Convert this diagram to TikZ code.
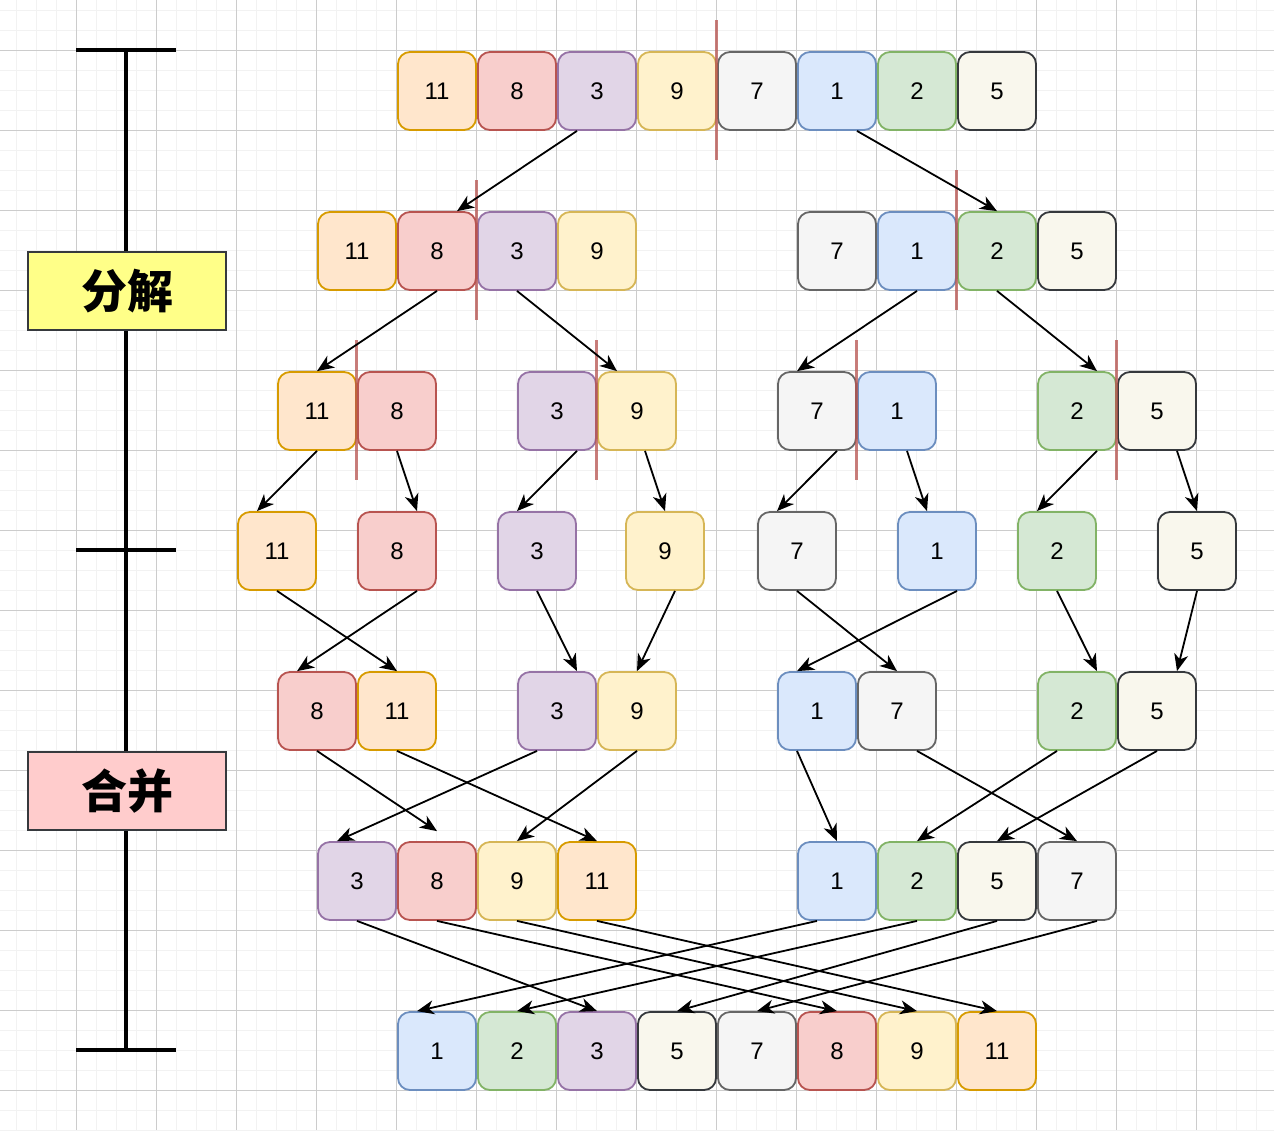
\documentclass[tikz,border=0pt]{standalone}
\usepackage{fontspec}
\setmainfont{Liberation Sans}
\newfontfamily\cjk{Noto Sans CJK SC}
\usetikzlibrary{arrows.meta}
\definecolor{orgfill}{HTML}{FFE6CC}\definecolor{orgline}{HTML}{D79B00}
\definecolor{redfill}{HTML}{F8CECC}\definecolor{redline}{HTML}{B85450}
\definecolor{purfill}{HTML}{E1D5E7}\definecolor{purline}{HTML}{9673A6}
\definecolor{yelfill}{HTML}{FFF2CC}\definecolor{yelline}{HTML}{D6B656}
\definecolor{gryfill}{HTML}{F5F5F5}\definecolor{gryline}{HTML}{666666}
\definecolor{blufill}{HTML}{DAE8FC}\definecolor{bluline}{HTML}{6C8EBF}
\definecolor{grnfill}{HTML}{D5E8D4}\definecolor{grnline}{HTML}{82B366}
\definecolor{begfill}{HTML}{F9F7ED}\definecolor{begline}{HTML}{36393D}
\definecolor{labyel}{HTML}{FFFF88}\definecolor{labred}{HTML}{FFCCCC}
\tikzset{
  cell/.style={line width=1.8pt, rounded corners=12pt, minimum size=78pt, inner sep=0pt, font=\fontsize{24}{24}\selectfont},
  v11/.style={cell, fill=orgfill, draw=orgline},
  v8/.style={cell, fill=redfill, draw=redline},
  v3/.style={cell, fill=purfill, draw=purline},
  v9/.style={cell, fill=yelfill, draw=yelline},
  v7/.style={cell, fill=gryfill, draw=gryline},
  v1/.style={cell, fill=blufill, draw=bluline},
  v2/.style={cell, fill=grnfill, draw=grnline},
  v5/.style={cell, fill=begfill, draw=begline},
  stage/.style={draw=begline, line width=2pt, minimum width=198pt, minimum height=78pt, inner sep=0pt, font=\cjk\bfseries\fontsize{46}{46}\selectfont},
  flow/.style={-{Stealth[length=17pt, width=14pt, inset=5pt]}, line width=1.8pt, draw=black},
  cut/.style={draw=redline, opacity=0.75, line width=3pt},
  ruler/.style={line width=3.5pt, draw=black},
  minorgrid/.style={draw=black!5, line width=1pt},
  majorgrid/.style={draw=black!20, line width=1pt}
}
\begin{document}
\begin{tikzpicture}[x=1pt, y=-1pt]
  \useasboundingbox (0,0) rectangle (1274,1130);
  \fill[white] (0,0) rectangle (1274,1130);
  % background grid
  \foreach \x in {16.5,36.5,...,1274} \draw[minorgrid] (\x,0) -- (\x,1130);
  \foreach \y in {10,30,...,1130} \draw[minorgrid] (0,\y) -- (1274,\y);
  \foreach \x in {76.5,156.5,...,1274} \draw[majorgrid] (\x,0) -- (\x,1130);
  \foreach \y in {50,130,...,1130} \draw[majorgrid] (0,\y) -- (1274,\y);

  % stage ruler
  \draw[ruler] (126,50) -- (126,1050);
  \draw[ruler] (76,50) -- (176,50);
  \draw[ruler] (76,550) -- (176,550);
  \draw[ruler] (76,1050) -- (176,1050);
  \node[stage, fill=labyel] (split) at (127,291) {分解};
  \node[stage, fill=labred] (merge) at (127,791) {合并};

  % rows
  \foreach \x/\v [count=\i] in {437/11,517/8,597/3,677/9,757/7,837/1,917/2,997/5}
    \node[v\v] (a\i) at (\x,91) {\v};
  \foreach \x/\v [count=\i] in {357/11,437/8,517/3,597/9,837/7,917/1,997/2,1077/5}
    \node[v\v] (b\i) at (\x,251) {\v};
  \foreach \x/\v [count=\i] in {317/11,397/8,557/3,637/9,817/7,897/1,1077/2,1157/5}
    \node[v\v] (c\i) at (\x,411) {\v};
  \foreach \x/\v [count=\i] in {277/11,397/8,537/3,665/9,797/7,937/1,1057/2,1197/5}
    \node[v\v] (d\i) at (\x,551) {\v};
  \foreach \x/\v [count=\i] in {317/8,397/11,557/3,637/9,817/1,897/7,1077/2,1157/5}
    \node[v\v] (e\i) at (\x,711) {\v};
  \foreach \x/\v [count=\i] in {357/3,437/8,517/9,597/11,837/1,917/2,997/5,1077/7}
    \node[v\v] (f\i) at (\x,881) {\v};
  \foreach \x/\v [count=\i] in {437/1,517/2,597/3,677/5,757/7,837/8,917/9,997/11}
    \node[v\v] (g\i) at (\x,1051) {\v};

  % split marks
  \draw[cut] (716,20) -- (716,160);
  \draw[cut] (476,180) -- (476,320);
  \draw[cut] (956,170) -- (956,310);
  \foreach \x in {356,596,856,1116} \draw[cut] (\x,340) -- (\x,480);

  % split
  \draw[flow] ([xshift=-20pt]a3.south) -- ([xshift=20pt]b2.north);
  \draw[flow] ([xshift=20pt]a6.south) -- (b7.north);
  \draw[flow] (b2.south) -- (c1.north);
  \draw[flow] (b3.south) -- ([xshift=-20pt]c4.north);
  \draw[flow] (b6.south) -- ([xshift=-20pt]c5.north);
  \draw[flow] (b7.south) -- ([xshift=20pt]c7.north);
  \draw[flow] (c1.south) -- ([xshift=-20pt]d1.north);
  \draw[flow] (c2.south) -- ([xshift=20pt]d2.north);
  \draw[flow] ([xshift=20pt]c3.south) -- ([xshift=-20pt]d3.north);
  \draw[flow] ([xshift=8pt]c4.south) -- (d4.north);
  \draw[flow] ([xshift=20pt]c5.south) -- ([xshift=-20pt]d5.north);
  \draw[flow] ([xshift=10pt]c6.south) -- ([xshift=-10pt]d6.north);
  \draw[flow] ([xshift=20pt]c7.south) -- ([xshift=-20pt]d7.north);
  \draw[flow] ([xshift=20pt]c8.south) -- (d8.north);

  % merge
  \draw[flow] (d1.south) -- (e2.north);
  \draw[flow] ([xshift=20pt]d2.south) -- ([xshift=-20pt]e1.north);
  \draw[flow] (d3.south) -- ([xshift=20pt]e3.north);
  \draw[flow] ([xshift=10pt]d4.south) -- (e4.north);
  \draw[flow] (d5.south) -- (e6.north);
  \draw[flow] ([xshift=20pt]d6.south) -- ([xshift=-20pt]e5.north);
  \draw[flow] (d7.south) -- ([xshift=20pt]e7.north);
  \draw[flow] (d8.south) -- ([xshift=20pt]e8.north);

  \draw[flow] (e1.south) -- ([yshift=10pt]f2.north);
  \draw[flow] (e2.south) -- (f4.north);
  \draw[flow] ([xshift=-20pt]e3.south) -- ([xshift=-20pt]f1.north);
  \draw[flow] (e4.south) -- (f3.north);
  \draw[flow] ([xshift=-20pt]e5.south) -- (f5.north);
  \draw[flow] ([xshift=20pt]e6.south) -- (f8.north);
  \draw[flow] ([xshift=-20pt]e7.south) -- (f6.north);
  \draw[flow] (e8.south) -- (f7.north);

  \draw[flow] (f1.south) -- (g3.north);
  \draw[flow] (f2.south) -- (g6.north);
  \draw[flow] (f3.south) -- (g7.north);
  \draw[flow] (f4.south) -- (g8.north);
  \draw[flow] ([xshift=-20pt]f5.south) -- ([xshift=-20pt]g1.north);
  \draw[flow] (f6.south) -- (g2.north);
  \draw[flow] (f7.south) -- (g4.north);
  \draw[flow] ([xshift=20pt]f8.south) -- (g5.north);
\end{tikzpicture}
\end{document}
